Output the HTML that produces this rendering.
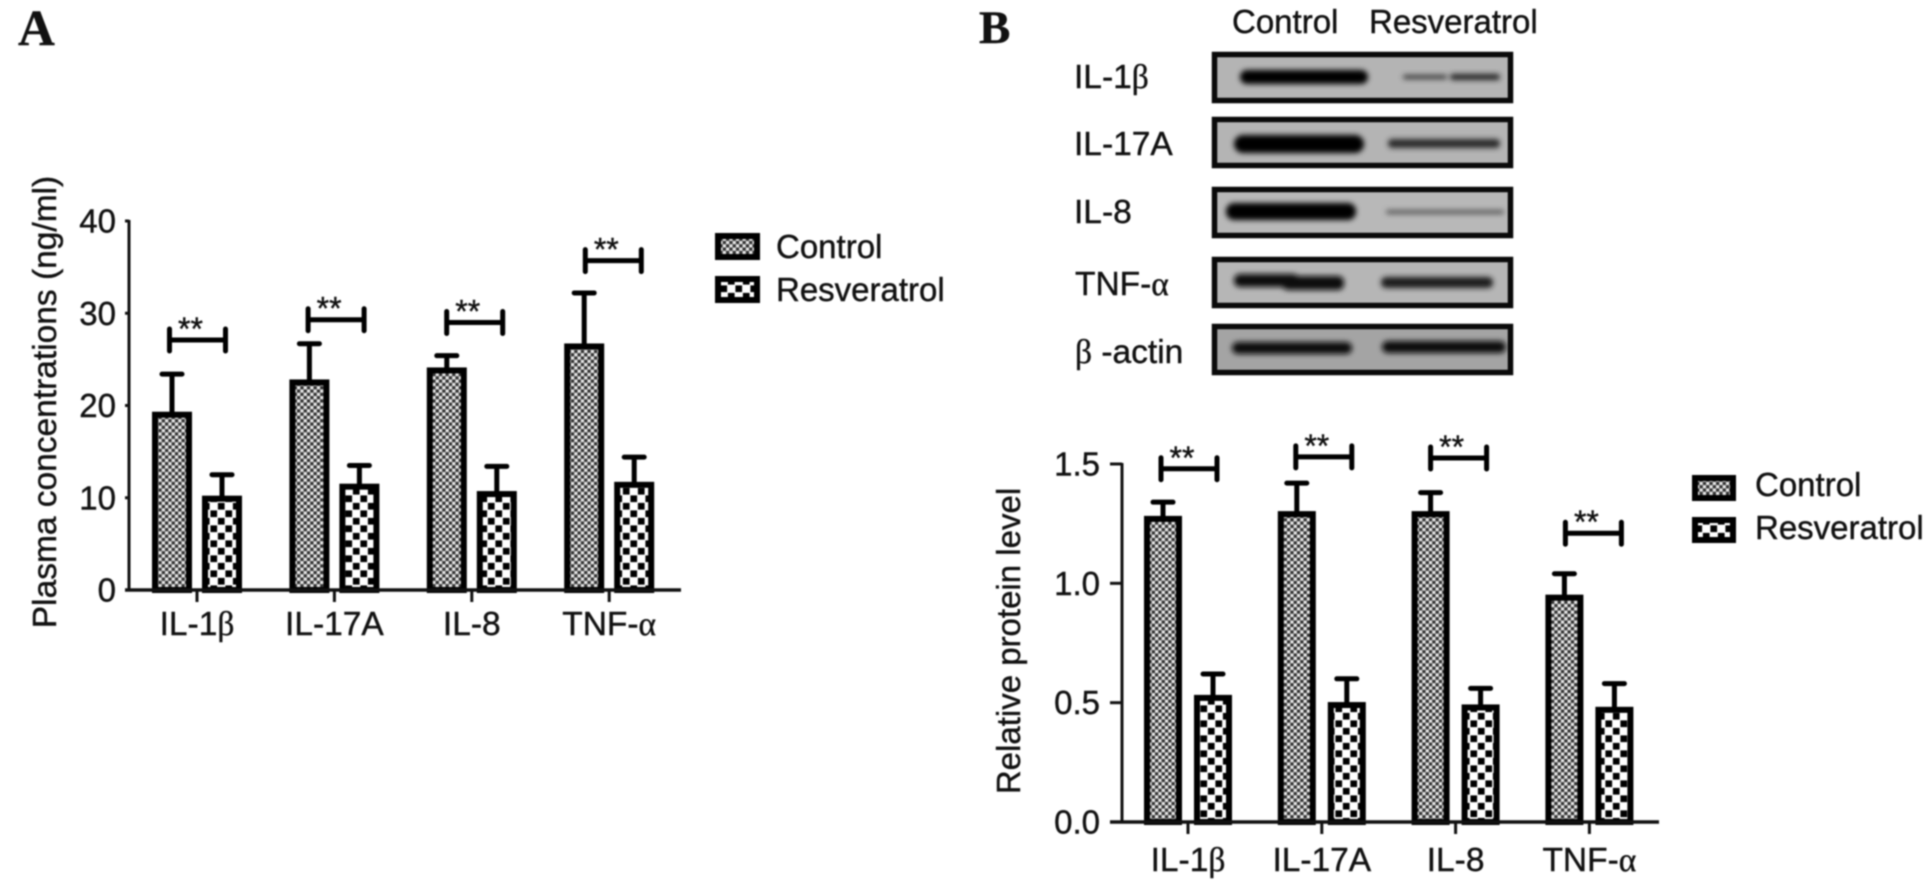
<!DOCTYPE html>
<html lang="en">
<head>
<meta charset="utf-8">
<title>Plasma concentrations and relative protein level</title>
<style>
html,body{margin:0;padding:0;background:#fff;}
#figure{display:block;width:1931px;height:890px;filter:blur(0.8px);}
text{font-family:"Liberation Sans",Arial,sans-serif;fill:#111;stroke:#111;stroke-width:0.4px;}
.greek{font-family:"Liberation Serif","Times New Roman",serif;}
.panel{font-family:"Liberation Serif","Times New Roman",serif;font-weight:bold;fill:#111;}
</style>
</head>
<body>
<svg id="figure" xmlns="http://www.w3.org/2000/svg" width="1931" height="890" viewBox="0 0 1931 890">
  <defs>
    <pattern id="fineCheck" patternUnits="userSpaceOnUse" width="6.6" height="6.6">
      <rect width="6.6" height="6.6" fill="#e6e6e6"/>
      <rect x="0" y="0" width="3.3" height="3.3" fill="#333"/>
      <rect x="3.3" y="3.3" width="3.3" height="3.3" fill="#333"/>
    </pattern>
    <pattern id="coarseCheck" patternUnits="userSpaceOnUse" width="15" height="15">
      <rect width="15" height="15" fill="#fff"/>
      <rect x="0.4" y="0.4" width="6.7" height="6.7" fill="#000"/>
      <rect x="7.9" y="7.9" width="6.7" height="6.7" fill="#000"/>
    </pattern>
    <filter id="bandBlur" x="-20%" y="-200%" width="140%" height="500%">
      <feGaussianBlur stdDeviation="2.6"/>
    </filter>
  </defs>

  <text class="panel" x="18" y="45" font-size="51">A</text>
  <text class="panel" x="979" y="43" font-size="47">B</text>

  <g id="chartA"></g>
  <g id="chartB"></g>

  <g>
    <rect x="718" y="236" width="39" height="21" fill="url(#fineCheck)" stroke="#000" stroke-width="6"/>
    <text x="776" y="258" font-size="33">Control</text>
    <rect x="718" y="279" width="39" height="21" fill="url(#coarseCheck)" stroke="#000" stroke-width="6"/>
    <text x="776" y="301" font-size="33">Resveratrol</text>
  </g>
  <g>
    <rect x="1695" y="478" width="38" height="20" fill="url(#fineCheck)" stroke="#000" stroke-width="6"/>
    <text x="1755" y="496" font-size="33">Control</text>
    <rect x="1695" y="520" width="38" height="20" fill="url(#coarseCheck)" stroke="#000" stroke-width="6"/>
    <text x="1755" y="539" font-size="33">Resveratrol</text>
  </g>

  <g>
    <text x="1232" y="33" font-size="33">Control</text>
    <text x="1369" y="33" font-size="33">Resveratrol</text>

    <text x="1074" y="88" font-size="33.5">IL-1<tspan class="greek">β</tspan></text>
    <text x="1074" y="155" font-size="33.5">IL-17A</text>
    <text x="1074" y="223" font-size="33.5">IL-8</text>
    <text x="1075" y="295" font-size="33.5">TNF-<tspan class="greek">α</tspan></text>
    <text x="1075" y="363" font-size="33.5"><tspan class="greek">β</tspan> -actin</text>

    <g>
      <rect x="1214.5" y="54.5" width="296" height="46" fill="#b4b4b4" stroke="#0a0a0a" stroke-width="5.5"/>
      <g filter="url(#bandBlur)">
        <rect x="1240" y="70" width="128" height="14" rx="7" fill="#000"/>
        <rect x="1403" y="75" width="44" height="4" rx="2" fill="#333"/>
        <rect x="1450" y="74" width="50" height="6" rx="3" fill="#222"/>
      </g>
    </g>
    <g>
      <rect x="1214.5" y="119.5" width="296" height="46" fill="#b4b4b4" stroke="#0a0a0a" stroke-width="5.5"/>
      <g filter="url(#bandBlur)">
        <rect x="1234" y="135" width="130" height="18" rx="9" fill="#000"/>
        <rect x="1388" y="139" width="112" height="9" rx="4" fill="#2a2a2a"/>
      </g>
    </g>
    <g>
      <rect x="1214.5" y="189.5" width="296" height="46" fill="#b8b8b8" stroke="#0a0a0a" stroke-width="5.5"/>
      <g filter="url(#bandBlur)">
        <rect x="1226" y="203" width="130" height="17" rx="8" fill="#000"/>
        <rect x="1386" y="210" width="118" height="4" rx="2" fill="#555"/>
      </g>
    </g>
    <g>
      <rect x="1214.5" y="259.5" width="296" height="46" fill="#b6b6b6" stroke="#0a0a0a" stroke-width="5.5"/>
      <g filter="url(#bandBlur)">
        <rect x="1234" y="274" width="65" height="13" rx="6" fill="#111"/>
        <rect x="1282" y="276" width="62" height="14" rx="6" fill="#0c0c0c"/>
        <rect x="1381" y="277" width="112" height="11" rx="5" fill="#1c1c1c"/>
      </g>
    </g>
    <g>
      <rect x="1214.5" y="326.5" width="296" height="46" fill="#a4a4a4" stroke="#0a0a0a" stroke-width="5.5"/>
      <g filter="url(#bandBlur)">
        <rect x="1232" y="342" width="120" height="12" rx="6" fill="#111"/>
        <rect x="1382" y="341" width="124" height="12" rx="6" fill="#0c0c0c"/>
      </g>
    </g>
  </g>
</svg>

<script>
// Shared categories
const categories = ['IL-1β', 'IL-17A', 'IL-8', 'TNF-α'];

// Panel A data
const plasmaTicks = [0, 10, 20, 30, 40];
const plasmaTickLabels = ['0', '10', '20', '30', '40'];
const plasmaControl = [19.0, 22.5, 23.8, 26.4];
const plasmaControlError = [4.4, 4.2, 1.6, 5.8];
const plasmaResveratrol = [9.9, 11.2, 10.4, 11.4];
const plasmaResveratrolError = [2.6, 2.3, 3.0, 3.0];
const plasmaBracketLevels = [27.1, 29.3, 29.0, 35.7];

// Panel B data
const proteinTicks = [0, 0.5, 1, 1.5];
const proteinTickLabels = ['0.0', '0.5', '1.0', '1.5'];
const proteinControl = [1.27, 1.29, 1.29, 0.94];
const proteinControlError = [0.07, 0.13, 0.09, 0.10];
const proteinResveratrol = [0.52, 0.49, 0.48, 0.47];
const proteinResveratrolError = [0.10, 0.11, 0.08, 0.11];
const proteinBracketLevels = [1.48, 1.53, 1.525, 1.21];

const SVG_NS = 'http://www.w3.org/2000/svg';

function makeEl(parent, tag, attrs) {
  const el = document.createElementNS(SVG_NS, tag);
  for (const k in attrs) el.setAttribute(k, attrs[k]);
  parent.appendChild(el);
  return el;
}

function fillLabel(el, str) {
  str.split(/([βα])/).forEach(function (part) {
    if (!part) return;
    const span = document.createElementNS(SVG_NS, 'tspan');
    if (part === 'β' || part === 'α') span.setAttribute('class', 'greek');
    span.textContent = part;
    el.appendChild(span);
  });
}

function drawChart(root, cfg) {
  const yScale = function (v) { return cfg.baseY - (v / cfg.maxValue) * (cfg.baseY - cfg.topY); };
  const xScale = function (i) { return cfg.firstX + i * cfg.stepX; };
  const bracketScale = function (i) { return cfg.bracketFirstX + i * cfg.bracketStepX; };

  // Bars with error bars
  const drawBar = function (series, errors, offset, patternId, seriesName) {
    series.forEach(function (v, i) {
      const cx = xScale(i) + offset;
      const top = yScale(v);
      const errTop = yScale(v + errors[i]);

      const stem = makeEl(root, 'line', { x1: cx, x2: cx, y1: top, y2: errTop, stroke: '#000', 'stroke-width': 5 });
      
      

      const cap = makeEl(root, 'line', { x1: cx - 10, x2: cx + 10, y1: errTop, y2: errTop, stroke: '#000', 'stroke-width': 5, 'stroke-linecap': 'round' });
      
      

      const bar = makeEl(root, 'rect', {
        x: cx - cfg.barWidth / 2, y: top, width: cfg.barWidth, height: cfg.baseY - top,
        fill: 'url(#' + patternId + ')', stroke: '#000', 'stroke-width': 6
      });
      
      
    });
  };
  drawBar(cfg.control, cfg.controlError, -cfg.barOffset, 'fineCheck', 'control');
  drawBar(cfg.resveratrol, cfg.resveratrolError, cfg.barOffset, 'coarseCheck', 'resveratrol');

  // Axes
  const yAxis = makeEl(root, 'line', { x1: cfg.axisX, x2: cfg.axisX, y1: cfg.topY - 1, y2: cfg.baseY + 1, stroke: '#111', 'stroke-width': 3 });
  
  

  const xAxis = makeEl(root, 'line', { x1: cfg.axisX - cfg.tickLen, x2: cfg.axisEndX, y1: cfg.baseY, y2: cfg.baseY, stroke: '#111', 'stroke-width': 3.4 });
  
  

  // Y ticks and labels
  cfg.ticks.forEach(function (t, i) {
    const y = yScale(t);
    const tick = makeEl(root, 'line', { x1: cfg.axisX - cfg.tickLen, x2: cfg.axisX, y1: y, y2: y, stroke: '#111', 'stroke-width': 3 });
    
    

    const label = makeEl(root, 'text', { x: cfg.tickLabelX, y: y + 11.5, 'text-anchor': 'end', 'font-size': 33 });
    
    
    label.textContent = cfg.tickLabels[i];
  });

  // X ticks and category labels
  categories.forEach(function (name, i) {
    const x = xScale(i);
    const tick = makeEl(root, 'line', { x1: x, x2: x, y1: cfg.baseY, y2: cfg.baseY + 12, stroke: '#111', 'stroke-width': 3 });
    
    

    const label = makeEl(root, 'text', { x: x + cfg.catShift, y: cfg.catY, 'text-anchor': 'middle', 'font-size': 33.5 });
    
    
    fillLabel(label, name);
  });

  // Significance brackets
  cfg.bracketLevels.forEach(function (v, i) {
    const y = yScale(v);
    const center = bracketScale(i);
    const left = center - cfg.bracketHalf;
    const right = center + cfg.bracketHalf;
    const group = makeEl(root, 'g', {});
    
    

    makeEl(group, 'line', { x1: left, x2: right, y1: y, y2: y, stroke: '#000', 'stroke-width': 5 });
    makeEl(group, 'line', { x1: left, x2: left, y1: y - 11, y2: y + 11, stroke: '#000', 'stroke-width': 5, 'stroke-linecap': 'round' });
    makeEl(group, 'line', { x1: right, x2: right, y1: y - 11, y2: y + 11, stroke: '#000', 'stroke-width': 5, 'stroke-linecap': 'round' });

    const stars = makeEl(root, 'text', { x: center - 7, y: y, 'text-anchor': 'middle', 'font-size': 32 });
    
    
    stars.textContent = '**';
  });

  // Y-axis title
  const title = makeEl(root, 'text', {
    transform: 'translate(' + cfg.titleX + ',' + cfg.titleY + ') rotate(-90)',
    'text-anchor': 'middle', 'font-size': cfg.titleSize
  });
  
  
  title.textContent = cfg.title;
}

drawChart(document.getElementById('chartA'), {
  baseY: 590, topY: 221, maxValue: 40,
  firstX: 197, stepX: 137.4, barWidth: 34, barOffset: 25,
  axisX: 129, axisEndX: 681, tickLen: 4, tickLabelX: 116, catY: 635, catShift: 0,
  bracketFirstX: 197.5, bracketStepX: 138.6, bracketHalf: 28,
  titleX: 56, titleY: 402, titleSize: 33.5,
  title: 'Plasma concentrations (ng/ml)',
  ticks: plasmaTicks, tickLabels: plasmaTickLabels,
  control: plasmaControl, controlError: plasmaControlError,
  resveratrol: plasmaResveratrol, resveratrolError: plasmaResveratrolError,
  bracketLevels: plasmaBracketLevels
});

drawChart(document.getElementById('chartB'), {
  baseY: 822, topY: 464, maxValue: 1.5,
  firstX: 1188, stepX: 133.8, barWidth: 32, barOffset: 25,
  axisX: 1122, axisEndX: 1659, tickLen: 12, tickLabelX: 1100, catY: 871, catShift: 0,
  bracketFirstX: 1189, bracketStepX: 134.8, bracketHalf: 28,
  titleX: 1020, titleY: 641, titleSize: 33,
  title: 'Relative protein level',
  ticks: proteinTicks, tickLabels: proteinTickLabels,
  control: proteinControl, controlError: proteinControlError,
  resveratrol: proteinResveratrol, resveratrolError: proteinResveratrolError,
  bracketLevels: proteinBracketLevels
});
</script>
</body>
</html>
